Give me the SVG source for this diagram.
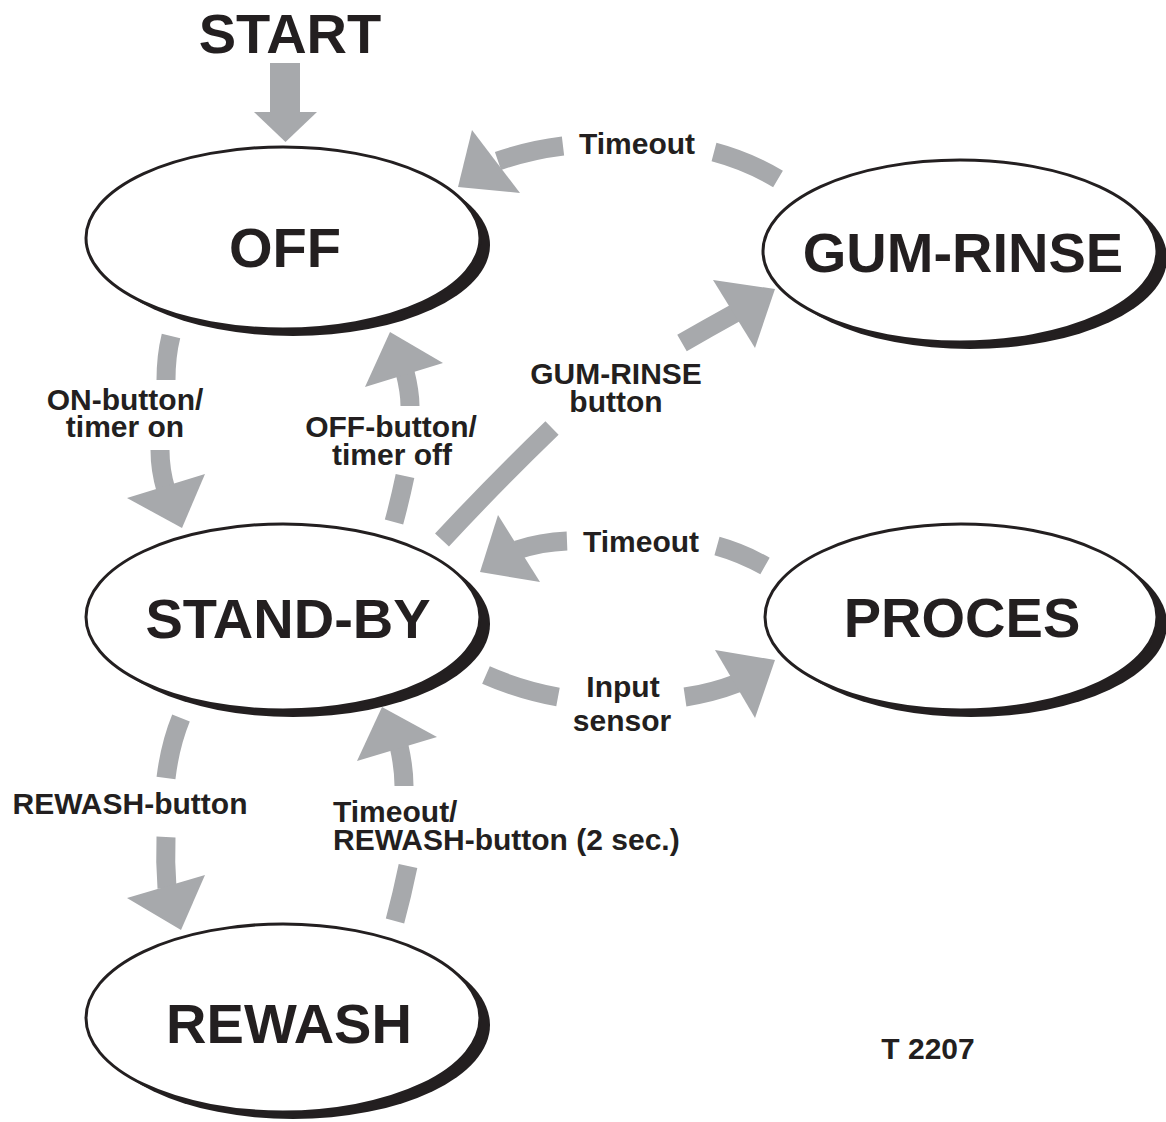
<svg xmlns="http://www.w3.org/2000/svg" width="1166" height="1122" viewBox="0 0 1166 1122">
<style>
.shadow{fill:#231f20}
.node{fill:#ffffff;stroke:#231f20;stroke-width:3}
.big{font-family:"Liberation Sans",Arial,sans-serif;font-weight:bold;font-size:56px;fill:#231f20;text-anchor:middle}
.lbl{font-family:"Liberation Sans",Arial,sans-serif;font-weight:bold;font-size:30px;fill:#231f20;text-anchor:middle}
.band{fill:none;stroke:#a7a9ac;stroke-width:19;stroke-linecap:butt}
.head{fill:#a7a9ac}
</style>
<rect width="1166" height="1122" fill="#ffffff"/>
<text class="big" x="290" y="53">START</text>
<g id="connectors">
  <rect class="head" x="270" y="63" width="30" height="52"/>
  <polygon class="head" points="254,112 317,112 285.5,142"/>
  <path class="band" d="M778,179 Q748,161 714,152"/>
  <path class="band" d="M563,146 Q530,150 498,161"/>
  <polygon class="head" points="472,130 520,193 458,187"/>
  <path class="band" d="M171,336 Q166,356 166,380"/>
  <path class="band" d="M160,450 Q160,470 166,490"/>
  <polygon class="head" points="127,498 205,474 182,528"/>
  <path class="band" d="M394,522 Q400,500 405,476"/>
  <path class="band" d="M410,406 Q410,392 405,372"/>
  <polygon class="head" points="365,387 443,363 390,332"/>
  <path class="band" d="M442,540 Q495,483 552,428"/>
  <path class="band" d="M682,343 Q708,328 737,312"/>
  <polygon class="head" points="713,280 755,348 775,289"/>
  <path class="band" d="M765,566 Q742,553 717,546"/>
  <path class="band" d="M567,541 Q541,542 517,550"/>
  <polygon class="head" points="498,515 540,582 480,572"/>
  <path class="band" d="M486,675 Q520,690 558,697"/>
  <path class="band" d="M685,697 Q712,693 738,683"/>
  <polygon class="head" points="715,650 755,718 775,660"/>
  <path class="band" d="M181,718 Q170,745 166,778"/>
  <path class="band" d="M166,837 Q165,862 167,888"/>
  <polygon class="head" points="127,898 205,875 181,930"/>
  <path class="band" d="M395,921 Q402,895 408,866"/>
  <path class="band" d="M404,786 Q404,768 399,746"/>
  <polygon class="head" points="357,761 437,737 382,707"/>
</g>
<g id="off">
  <ellipse class="shadow" cx="293" cy="245" rx="197" ry="91"/>
  <ellipse class="node" cx="283" cy="238" rx="197" ry="91"/>
  <text class="big" x="285" y="267">OFF</text>
</g>
<g id="gum-rinse">
  <ellipse class="shadow" cx="970" cy="258" rx="197" ry="91"/>
  <ellipse class="node" cx="960" cy="251" rx="197" ry="91"/>
  <text class="big" x="963" y="272">GUM-RINSE</text>
</g>
<g id="stand-by">
  <ellipse class="shadow" cx="293" cy="624" rx="197" ry="93"/>
  <ellipse class="node" cx="283" cy="617" rx="197" ry="93"/>
  <text class="big" x="288" y="638">STAND-BY</text>
</g>
<g id="proces">
  <ellipse class="shadow" cx="971" cy="624" rx="196" ry="93"/>
  <ellipse class="node" cx="961" cy="617" rx="196" ry="93"/>
  <text class="big" x="962" y="637">PROCES</text>
</g>
<g id="rewash">
  <ellipse class="shadow" cx="293" cy="1025" rx="197" ry="94"/>
  <ellipse class="node" cx="283" cy="1018" rx="197" ry="94"/>
  <text class="big" x="289" y="1043">REWASH</text>
</g>
<g id="labels">
  <text class="lbl" x="637" y="154">Timeout</text>
  <text class="lbl" x="616" y="384">GUM-RINSE</text>
  <text class="lbl" x="616" y="412">button</text>
  <text class="lbl" x="125" y="410">ON-button/</text>
  <text class="lbl" x="125" y="437">timer on</text>
  <text class="lbl" x="391" y="437">OFF-button/</text>
  <text class="lbl" x="392" y="465">timer off</text>
  <text class="lbl" x="641" y="552">Timeout</text>
  <text class="lbl" x="623" y="697">Input</text>
  <text class="lbl" x="622" y="731">sensor</text>
  <text class="lbl" x="130" y="814">REWASH-button</text>
  <text class="lbl" x="333" y="822" style="text-anchor:start">Timeout/</text>
  <text class="lbl" x="333" y="850" style="text-anchor:start">REWASH-button (2 sec.)</text>
  <text class="lbl" x="928" y="1059">T 2207</text>
</g>
</svg>
